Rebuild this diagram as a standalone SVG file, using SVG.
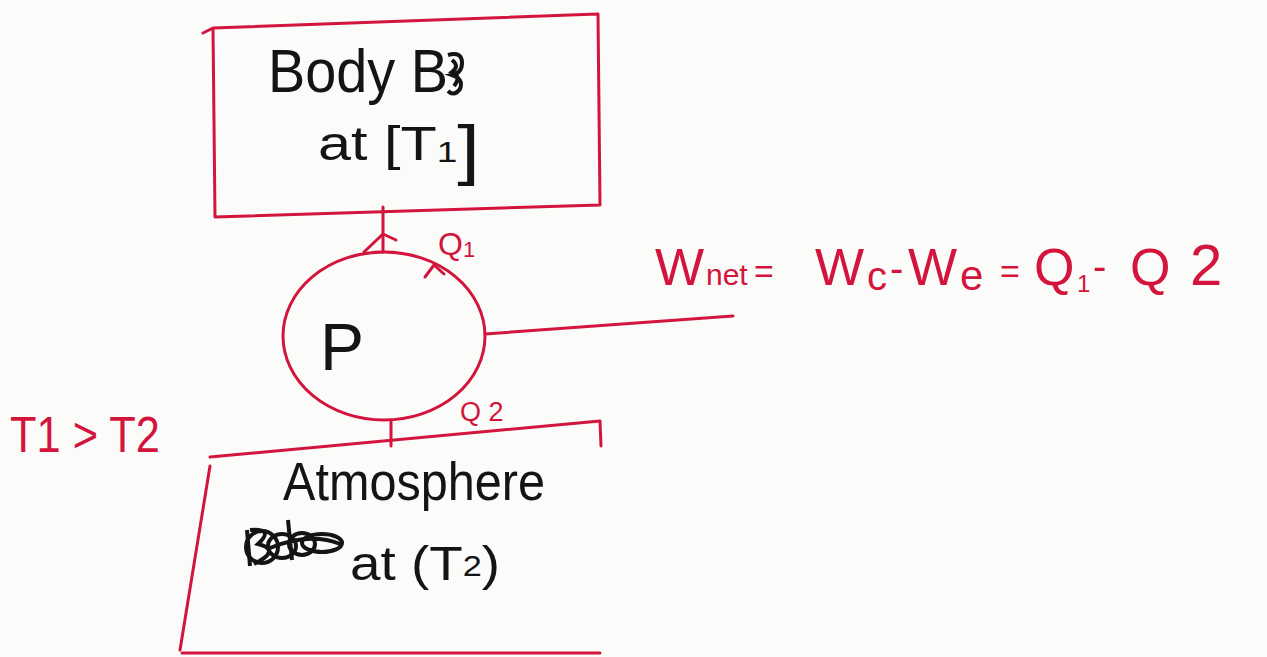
<svg xmlns="http://www.w3.org/2000/svg" width="1267" height="657" viewBox="0 0 1267 657">
<style>
.ink{fill:none;stroke:#d3143c;stroke-width:3;stroke-linecap:round;stroke-linejoin:round}
.blk{font-family:"Liberation Sans","DejaVu Sans",sans-serif;fill:#141414}
.red{font-family:"Liberation Sans","DejaVu Sans",sans-serif;fill:#d3143c}
.scr{fill:none;stroke:#141414;stroke-width:4}
</style>
<rect width="1267" height="657" fill="#fbfbf9"/>
<g id="body-b">
<path class="ink" d="M213 28 L598 14 L600 205 L215 217 Z M203 33 L213 28"/>
<text class="blk" x="268" y="92" font-size="62" textLength="180" lengthAdjust="spacingAndGlyphs">Body B</text>
<path class="scr" d="M448 55 q14 -4 14 8 q0 10 -10 12 q12 4 8 14 q-6 8 -12 2 M452 60 q8 6 0 12 q10 4 2 14"/>
<text class="blk" x="318" y="160" font-size="48" textLength="162" lengthAdjust="spacingAndGlyphs">at [T<tspan font-size="30" dy="2">1</tspan><tspan dy="10" font-size="66">]</tspan></text>
</g>
<g id="pump">
<ellipse class="ink" cx="384" cy="336" rx="101" ry="84"/>
<text class="blk" x="320" y="370" font-size="66">P</text>
</g>
<g id="atmosphere">
<path class="ink" d="M210 457 L600 421 L601 446 M210 466 L180 650 M182 653 L600 653"/>
<text class="blk" x="283" y="500" font-size="54" textLength="262" lengthAdjust="spacingAndGlyphs">Atmosphere</text>
<g class="scr">
<ellipse cx="262" cy="547" rx="16" ry="16"/>
<ellipse cx="282" cy="546" rx="14" ry="12"/>
<ellipse cx="302" cy="544" rx="13" ry="11"/>
<ellipse cx="322" cy="543" rx="20" ry="9"/>
<path d="M247 530 L250 566 M250 530 q25 -2 8 14 q24 6 -4 20 M288 520 L292 560 M270 548 q40 -16 70 -4"/>
</g>
<text class="blk" x="350" y="580" font-size="48" textLength="150" lengthAdjust="spacingAndGlyphs">at (T<tspan font-size="30" dy="-4">2</tspan><tspan dy="4">)</tspan></text>
</g>
<g id="connectors">
<path class="ink" d="M383 207 L383 252"/>
<path class="ink" d="M364 252 L383 234 L396 240"/>
<path class="ink" d="M425 277 L434 265 L444 274"/>
<path class="ink" d="M485 334 L733 316"/>
<path class="ink" d="M391 420 L391 446"/>
</g>
<g id="labels">
<text class="red" x="438" y="255" font-size="32">Q<tspan font-size="22" dy="2">1</tspan></text>
<text class="red" x="460" y="421" font-size="27">Q 2</text>
<text class="red" font-size="52"><tspan x="655" y="285">W</tspan><tspan x="706" y="285" font-size="30">net</tspan><tspan x="754" y="283" font-size="34">=</tspan><tspan x="815" y="285">W</tspan><tspan x="867" y="290" font-size="40">c</tspan><tspan x="890" y="282" font-size="40">-</tspan><tspan x="908" y="285">W</tspan><tspan x="960" y="290" font-size="42">e</tspan><tspan x="1000" y="283" font-size="34">=</tspan><tspan x="1034" y="285">Q</tspan><tspan x="1077" y="292" font-size="24">1</tspan><tspan x="1093" y="280" font-size="40">-</tspan><tspan x="1130" y="285">Q</tspan><tspan x="1190" y="285" font-size="58">2</tspan></text>
<text class="red" x="10" y="452" font-size="50" textLength="150" lengthAdjust="spacingAndGlyphs">T1 &gt; T2</text>
</g>
</svg>
